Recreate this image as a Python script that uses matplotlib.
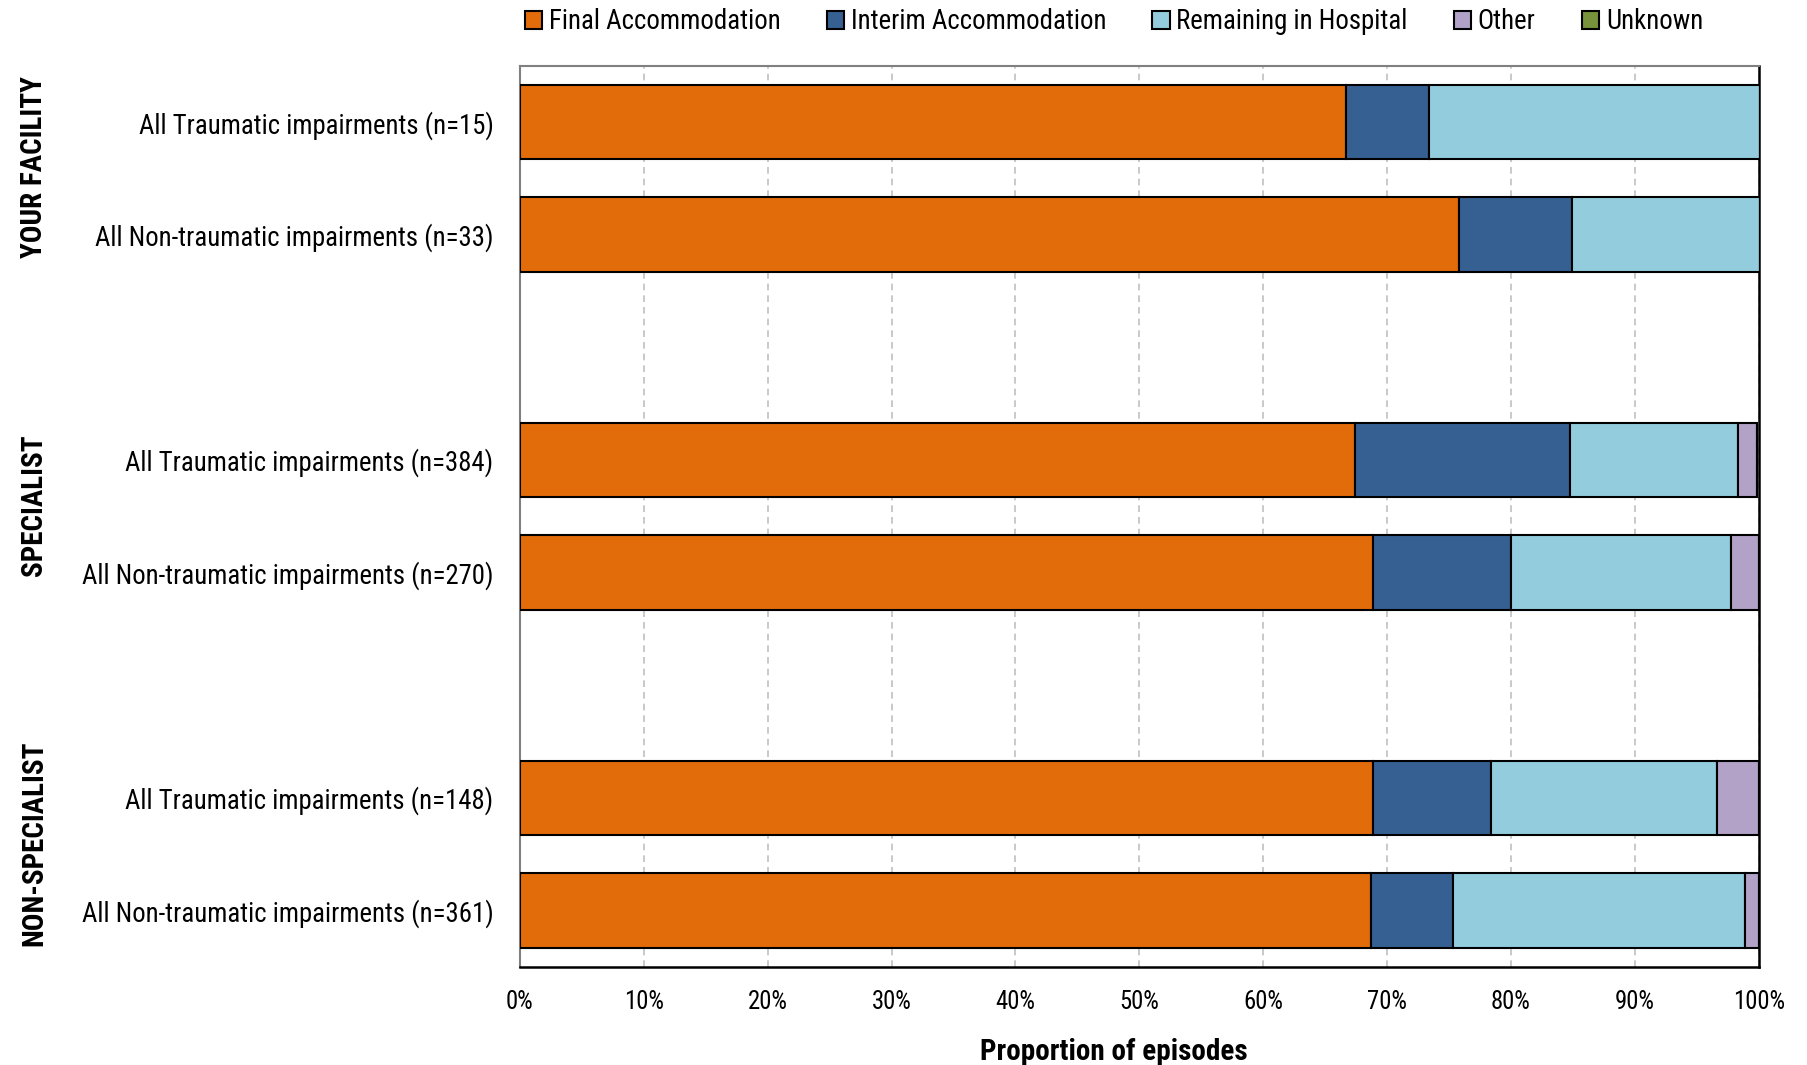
import matplotlib.pyplot as plt
from matplotlib import font_manager

# condensed sans like Arial Narrow, pick whatever is installed
names = {f.name for f in font_manager.fontManager.ttflist}
narrow = next((n for n in ['Arial Narrow', 'Liberation Sans Narrow', 'Roboto Condensed',
                           'Archivo Narrow', 'Liberation Sans'] if n in names), 'DejaVu Sans')
plt.rcParams['font.family'] = [narrow, 'DejaVu Sans']

# Data (percent of episodes)
row_labels = [
    'All Traumatic impairments (n=15)',
    'All Non-traumatic impairments (n=33)',
    'All Traumatic impairments (n=384)',
    'All Non-traumatic impairments (n=270)',
    'All Traumatic impairments (n=148)',
    'All Non-traumatic impairments (n=361)',
]
row_pos = [0, 1, 3, 4, 6, 7]
group_labels = ['YOUR FACILITY', 'SPECIALIST', 'NON-SPECIALIST']
group_pos = [0.5, 3.5, 6.5]

series = ['Final Accommodation', 'Interim Accommodation', 'Remaining in Hospital', 'Other', 'Unknown']
final_acc = [66.7, 75.8, 67.4, 68.9, 68.9, 68.7]
interim_acc = [6.7, 9.1, 17.4, 11.1, 9.5, 6.6]
remaining = [26.7, 15.2, 13.5, 17.8, 18.2, 23.6]
other = [0.0, 0.0, 1.6, 2.2, 3.4, 1.1]
unknown = [0.0, 0.0, 0.0, 0.0, 0.0, 0.0]
colors = ['#E36C0A', '#366092', '#93CDDD', '#B2A2C7', '#77933C']

fig = plt.figure(figsize=(18.08, 10.65), dpi=100)
ax = fig.add_axes([0.2876, 0.0923, 0.6851, 0.846])

left = [0.0] * len(row_pos)
for name, vals, c in zip(series, [final_acc, interim_acc, remaining, other, unknown], colors):
    ax.barh(row_pos, vals, left=left, height=0.66, color=c, edgecolor='black',
            linewidth=1.5, label=name, zorder=3)
    left = [a + b for a, b in zip(left, vals)]

ax.set_xlim(0, 100)
ax.set_ylim(7.5, -0.5)
ax.set_xticks(range(0, 101, 10))
ax.set_xticklabels([f'{v}%' for v in range(0, 101, 10)])
ax.set_yticks(row_pos)
ax.set_yticklabels(row_labels)
ax.tick_params(axis='y', length=0, pad=19, labelsize=19.3)
ax.tick_params(axis='x', length=0, pad=17, labelsize=17.8)
ax.grid(axis='x', color='#C0C0C0', linestyle=(0, (4, 3)), linewidth=1.2, zorder=0)

for side in ['left', 'top']:
    ax.spines[side].set_color('#808080')
    ax.spines[side].set_linewidth(1.5)
for side in ['right', 'bottom']:
    ax.spines[side].set_color('black')
    ax.spines[side].set_linewidth(1.8)

ax.set_xlabel('Proportion of episodes', fontsize=21, fontweight='bold', labelpad=17)
ax.xaxis.label.set_x(0.4795)

for g, y in zip(group_labels, group_pos):
    ax.text(-0.392, y - 0.1, g, transform=ax.get_yaxis_transform(), rotation=90,
            ha='center', va='center', fontsize=21, fontweight='bold')

leg = ax.legend(loc='center', bbox_to_anchor=(0.4795, 1.049), ncol=5, frameon=False,
                fontsize=19.4, handlelength=0.65, handleheight=0.65, handletextpad=0.25,
                columnspacing=1.7)

plt.savefig('out.png', dpi=100)
